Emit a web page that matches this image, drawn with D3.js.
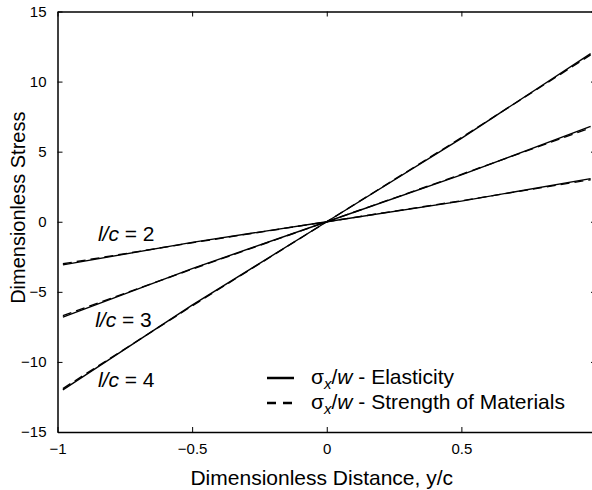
<!DOCTYPE html>
<html>
<head>
<meta charset="utf-8">
<script src="https://cdn.jsdelivr.net/npm/d3@7"></script>
<style>
  body { margin: 0; background: #fff; }
  svg { display: block; font-family: 'Liberation Sans', Arial, sans-serif; }
</style>
</head>
<body>
<div id="chart"></div>
<script>
// Values.
var yc = [-0.98, -0.5, 0, 0.5, 0.98];
var elastic2 = [-3.08, -1.47, 0, 1.47, 3.08];
var strength2 = [-3.0, -1.5, 0, 1.5, 3.0];
var elastic3 = [-6.8, -3.34, 0, 3.34, 6.8];
var strength3 = [-6.7, -3.38, 0, 3.38, 6.7];
var elastic4 = [-12.0, -5.95, 0, 5.95, 12.0];
var strength4 = [-11.9, -6.0, 0, 6.0, 11.9];
var xTicks = [-1, -0.5, 0, 0.5];
var yTicks = [-15, -10, -5, 0, 5, 10, 15];
var curveLabels = [
    {text: '2', x: -0.85, y: -1.4},
    {text: '3', x: -0.86, y: -7.5},
    {text: '4', x: -0.85, y: -11.8}
];

var fullWidth = 592, fullHeight = 490;
var margin = {top: 11.5, right: -4, bottom: 58, left: 57.5};
var width = fullWidth - margin.left - margin.right;
var height = fullHeight - margin.top - margin.bottom;

var svg = d3.select('#chart').append('svg')
    .attr('width', fullWidth)
    .attr('height', fullHeight);

var g = svg.append('g')
    .attr('transform', 'translate(' + margin.left + ',' + margin.top + ')');

var x = d3.scaleLinear().domain([-1, 1]).range([0, width]);
var y = d3.scaleLinear().domain([-15, 15]).range([height, 0]);

function fmt(d) { return d3.format('')(d).replace('-', '\u2212'); }

// Axes, ticks inward on all four sides.
var axes = [
    {ax: d3.axisBottom(x).tickValues(xTicks).tickFormat(fmt), t: 'translate(0,' + height + ')'},
    {ax: d3.axisTop(x).tickValues(xTicks).tickFormat(''), t: 'translate(0,0)'},
    {ax: d3.axisLeft(y).tickValues(yTicks).tickFormat(fmt), t: 'translate(0,0)'},
    {ax: d3.axisRight(y).tickValues(yTicks).tickFormat(''), t: 'translate(' + width + ',0)'}
];
axes.forEach(function(a) {
    var sel = g.append('g').attr('transform', a.t)
        .call(a.ax.tickSizeInner(-5).tickSizeOuter(0).tickPadding(11));
    sel.select('.domain').attr('stroke', '#000').attr('stroke-width', 1.5);
    sel.selectAll('.tick line').attr('stroke', '#000').attr('stroke-width', 1);
    sel.selectAll('.tick text').attr('font-size', 15).attr('fill', '#000')
        .attr('font-family', "'Liberation Sans', Arial, sans-serif");
});

// Series lines.
var line = d3.line()
    .x(function(d) { return x(d[0]); })
    .y(function(d) { return y(d[1]); });

var series = [
    {v: elastic2, dash: null}, {v: strength2, dash: '9,5'},
    {v: elastic3, dash: null}, {v: strength3, dash: '9,5'},
    {v: elastic4, dash: null}, {v: strength4, dash: '9,5'}
];
series.forEach(function(s) {
    g.append('path')
        .datum(d3.zip(yc, s.v))
        .attr('d', line)
        .attr('fill', 'none')
        .attr('stroke', '#000')
        .attr('stroke-width', 1.4)
        .attr('stroke-dasharray', s.dash);
});

// Curve labels.
curveLabels.forEach(function(c) {
    var t = g.append('text')
        .attr('x', x(c.x))
        .attr('y', y(c.y))
        .attr('font-size', 21);
    t.append('tspan').attr('font-style', 'italic').text('l/c');
    t.append('tspan').text(' = ' + c.text);
});

// Legend.
var legend = [
    {label: 'Elasticity', dash: null, y: 378},
    {label: 'Strength of Materials', dash: '9,7', y: 403}
];
legend.forEach(function(l) {
    svg.append('line')
        .attr('x1', 267).attr('x2', 294)
        .attr('y1', l.y).attr('y2', l.y)
        .attr('stroke', '#000').attr('stroke-width', 2.5)
        .attr('stroke-dasharray', l.dash);
    var t = svg.append('text')
        .attr('x', 311).attr('y', l.y + 6)
        .attr('font-size', 21);
    t.append('tspan').text('\u03c3');
    t.append('tspan').attr('font-style', 'italic').attr('font-size', 15).attr('dy', 5).text('x');
    t.append('tspan').attr('dy', -5).text('/');
    t.append('tspan').attr('font-style', 'italic').text('w');
    t.append('tspan').text(' - ' + l.label);
});

// Axis titles.
svg.append('text')
    .attr('x', margin.left + x(0) - 5)
    .attr('y', 485)
    .attr('text-anchor', 'middle')
    .attr('font-size', 21)
    .text('Dimensionless Distance, y/c');

svg.append('text')
    .attr('transform', 'translate(25,' + (margin.top + y(1)) + ') rotate(-90)')
    .attr('text-anchor', 'middle')
    .attr('font-size', 20)
    .text('Dimensionless Stress');
</script>
</body>
</html>
